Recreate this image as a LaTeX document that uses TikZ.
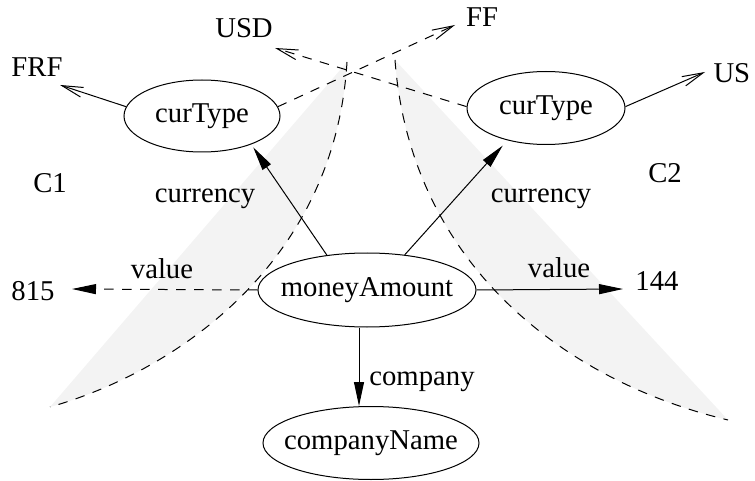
\documentclass[tikz,border=0pt]{standalone}
\usepackage{fontspec}
\setmainfont{Liberation Serif}
\usetikzlibrary{arrows.meta,shapes.geometric}
\definecolor{shadegray}{RGB}{243,243,243}
\newcommand\ztext[1]{\makebox[0pt]{#1}}
\begin{document}
\begin{tikzpicture}[x=1pt,y=-1pt,line width=1pt,
  every node/.style={font=\fontsize{28.7}{34}\selectfont,inner sep=0pt},
  ent/.style={ellipse,draw,line width=1pt},
  lbl/.style={anchor=base},
  dsh/.style={dash pattern=on 9.5pt off 8.5pt},
  fil/.style={-{Triangle[length=24pt,width=10pt]}},
  opn/.style={-{Straight Barb[length=21pt,width=10pt]}},
  regionfill/.style={fill=shadegray,draw=none},
  regionline/.style={draw,dsh}]
\useasboundingbox (0,0) rectangle (755,481);

% shaded regions
\path[regionfill] (347,62) .. controls (335,260) and (180,370) .. (50,407) -- cycle;
\path[regionfill] (395,60) .. controls (410,260) and (560,380) .. (728,420) -- cycle;
\path[regionline] (347,62) .. controls (335,260) and (180,370) .. (50,407);
\path[regionline] (395,60) .. controls (410,260) and (560,380) .. (728,420);

% entity nodes
\node[ent,minimum width=156pt,minimum height=72pt] (c1) at (202,116) {\ztext{curType}};
\node[ent,minimum width=158pt,minimum height=73pt] (c2) at (546,108) {\ztext{curType}};
\node[ent,minimum width=218pt,minimum height=74pt] (m) at (367,290) {\ztext{moneyAmount}};
\node[ent,minimum width=216pt,minimum height=73pt] (cn) at (371,443) {\ztext{companyName}};

% text nodes
\node[lbl] (frf) at (37,77) {FRF};
\node[lbl] (usd) at (244,38) {USD};
\node[lbl] (ff) at (482,27) {FF};
\node[anchor=base west] (us) at (713,83) {US};
\node[lbl] (cA) at (50,193) {C1};
\node[lbl] (cB) at (665,183) {C2};
\node[lbl] (cur1) at (205,203) {currency};
\node[lbl] (cur2) at (541,203) {currency};
\node[lbl] (val1) at (162,278) {value};
\node[lbl] (n815) at (33,300) {815};
\node[lbl] (val2) at (559,277) {value};
\node[lbl] (n144) at (657,290) {144};
\node[lbl] (comp) at (422,385) {company};

% free ends
\coordinate (tFRF) at (60,85);
\coordinate (tFF) at (455,25);
\coordinate (tUSD) at (275,48);
\coordinate (tUS) at (705,72);
\coordinate (t815) at (72,289);
\coordinate (t144) at (623,289);

% connectors
\draw[opn] (c1.173) -- (tFRF);
\draw[opn,dsh] (c1.7) -- (tFF);
\draw[opn,dsh] (c2.179) -- (tUSD);
\draw[opn] (c2.1) -- (tUS);
\draw[fil,shorten >=3.5pt] (m.139) -- (c1.-30);
\draw[fil,shorten >=7pt] (m.43) -- (c2.-140);
\draw[fil,dsh] (m.180) -- (t815);
\draw[fil] (m.0) -- (t144);
\draw[fil] ([xshift=-8pt]m.south) -- ([xshift=-12pt]cn.north);
\end{tikzpicture}
\end{document}
